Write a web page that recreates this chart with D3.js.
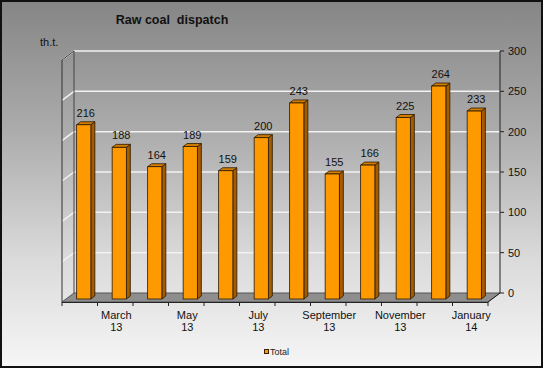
<!DOCTYPE html>
<html><head><meta charset="utf-8">
<script src="https://cdn.jsdelivr.net/npm/d3@7"></script>
<style>html,body{margin:0;padding:0;background:#fff}svg{display:block}text{font-family:"Liberation Sans",Arial,sans-serif}</style>
</head><body>
<script>
const categories = ["February 13","March 13","April 13","May 13","June 13","July 13","August 13","September 13","October 13","November 13","December 13","January 14"];
const totals = [216,188,164,189,159,200,243,155,166,225,264,233];
const yTicks = [0,50,100,150,200,250,300];
const xLabelIdx = [1,3,5,7,9,11];
const seriesName = "Total";

const W = 543, H = 368;
const svg = d3.select("body").append("svg").attr("width", W).attr("height", H);
const defs = svg.append("defs");
const bg = defs.append("linearGradient").attr("id","bg").attr("x1",0).attr("y1",0).attr("x2",0).attr("y2",1);
bg.append("stop").attr("offset","0").attr("stop-color","#858585");
bg.append("stop").attr("offset","0.35").attr("stop-color","#ababab");
bg.append("stop").attr("offset","0.7").attr("stop-color","#dadada");
bg.append("stop").attr("offset","1").attr("stop-color","#f6f6f6");
svg.append("rect").attr("x",0).attr("y",0).attr("width",W).attr("height",H).attr("fill","url(#bg)");
svg.append("rect").attr("x",1).attr("y",1).attr("width",W-2).attr("height",H-2).attr("fill","none").attr("stroke","#111").attr("stroke-width",2);

const DX = 12, DY = -9;
const yF = d3.scaleLinear().domain([0,300]).range([302,60]);
const yB = v => yF(v) + DY;
const x = d3.scaleBand().domain(categories).range([62,488]).paddingInner(0.6).paddingOuter(0.3);
const step = x.step();

// floor
svg.append("polygon")
  .attr("points", [[62,yF(0)],[488,yF(0)],[488+DX,yB(0)],[62+DX,yB(0)]].map(p=>p.join(",")).join(" "))
  .attr("fill","#8e8e8e").attr("stroke","#555").attr("stroke-width",1);

// gridlines
const grid = svg.append("g");
yTicks.filter(v=>v>0).forEach(v=>{
  grid.append("line").attr("x1",62+DX).attr("x2",488+DX).attr("y1",yB(v)).attr("y2",yB(v)).attr("stroke","#f2f2f2").attr("stroke-width",1.5);
  grid.append("line").attr("x1",62).attr("y1",yF(v)).attr("x2",62+DX).attr("y2",yB(v)).attr("stroke","#f2f2f2").attr("stroke-width",1.5);
});

// left wall edges
svg.append("line").attr("x1",62).attr("x2",62).attr("y1",yF(300)).attr("y2",yF(0)).attr("stroke","#333");
svg.append("line").attr("x1",62+DX).attr("x2",62+DX).attr("y1",yB(300)).attr("y2",yB(0)).attr("stroke","#444");
svg.append("line").attr("x1",62).attr("y1",yF(300)).attr("x2",62+DX).attr("y2",yB(300)).attr("stroke","#333");

// right axis
const ra = svg.append("g");
ra.append("line").attr("x1",488+DX).attr("x2",488+DX).attr("y1",yB(300)).attr("y2",yB(0)).attr("stroke","#222");
ra.append("line").attr("x1",488).attr("y1",yF(0)).attr("x2",488+DX).attr("y2",yB(0)).attr("stroke","#222");
yTicks.forEach(v=>{
  ra.append("line").attr("x1",488+DX).attr("x2",488+DX+4).attr("y1",yB(v)).attr("y2",yB(v)).attr("stroke","#222");
  ra.append("text").attr("x",488+DX+8).attr("y",yB(v)+4).attr("font-size",11).attr("fill","#111").text(v);
});

// x axis
const xa = svg.append("g");
xa.append("line").attr("x1",62).attr("x2",488).attr("y1",yF(0)+0.5).attr("y2",yF(0)+0.5).attr("stroke","#222");
for(let i=0;i<=categories.length;i++){
  const tx = 62 + i*step;
  xa.append("line").attr("x1",tx).attr("x2",tx).attr("y1",yF(0)).attr("y2",yF(0)+4).attr("stroke","#222");
}
xLabelIdx.forEach(i=>{
  const c = categories[i];
  const cx = x(c) + x.bandwidth()/2 + 1;
  const parts = c.split(" ");
  const t = xa.append("text").attr("text-anchor","middle").attr("font-size",11).attr("fill","#111");
  t.append("tspan").attr("x",cx).attr("y",319).text(parts[0]);
  t.append("tspan").attr("x",cx).attr("y",331).text(parts[1]);
});

// bars
const fo = DX/3, fy = DY/3;
const bw = x.bandwidth();
const bars = svg.append("g");
categories.forEach((c,i)=>{
  const v = totals[i];
  const x0 = x(c) + fo, y0 = yF(v) + fy, yb = yF(0) + fy;
  const g = bars.append("g");
  g.append("polygon").attr("points",[[x0+bw,y0],[x0+bw+fo,y0+fy],[x0+bw+fo,yb+fy],[x0+bw,yb]].map(p=>p.join(",")).join(" "))
    .attr("fill","#a35c00").attr("stroke","#2a1800").attr("stroke-width",0.8);
  g.append("polygon").attr("points",[[x0,y0],[x0+bw,y0],[x0+bw+fo,y0+fy],[x0+fo,y0+fy]].map(p=>p.join(",")).join(" "))
    .attr("fill","#d17d00").attr("stroke","#2a1800").attr("stroke-width",0.8);
  g.append("rect").attr("x",x0).attr("y",y0).attr("width",bw).attr("height",yb-y0)
    .attr("fill","#ff9900").attr("stroke","#2a1800").attr("stroke-width",0.8);
  g.append("text").attr("x",x0+bw/2+2).attr("y",y0+fy-5).attr("text-anchor","middle").attr("font-size",11).attr("fill","#111").text(v);
});

// title & unit
svg.append("text").attr("x",172).attr("y",24).attr("text-anchor","middle").attr("font-size",12.5).attr("font-weight","bold").attr("fill","#111").style("white-space","pre").text("Raw coal  dispatch");
svg.append("text").attr("x",40).attr("y",46).attr("font-size",11).attr("fill","#111").text("th.t.");

// legend
svg.append("rect").attr("x",264.5).attr("y",349.5).attr("width",4).attr("height",4).attr("fill","#ff9900").attr("stroke","#3a2000").attr("stroke-width",1);
svg.append("text").attr("x",270).attr("y",355).attr("font-size",9).attr("fill","#222").text(seriesName);
</script>
</body></html>
